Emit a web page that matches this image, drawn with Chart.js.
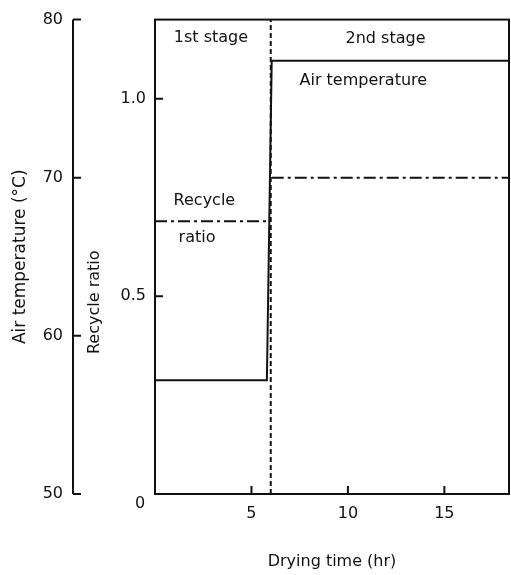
<!DOCTYPE html>
<html>
<head>
<meta charset="utf-8">
<script src="https://cdn.jsdelivr.net/npm/chart.js@4.4.1/dist/chart.umd.min.js"></script>
<style>
  html, body { margin: 0; padding: 0; background: #fff; }
</style>
</head>
<body>
<canvas id="dryingChart" width="511" height="575"></canvas>
<script>
// air temperature (left outer axis, deg C)
const tempHours = [0, 5.8, 6.05, 18.35];
const airTemp = [57.2, 57.2, 77.4, 77.4];

// recycle ratio (dash-dot), gap at the stage change
const recycleHours = [0, 5.95, 6, 6.05, 18.35];
const recycleRatio = [0.69, 0.69, null, 0.8, 0.8];

// stage boundary (dashed)
const stageHours = [6, 6];
const stageRatio = [0, 1.2];

// in-plot labels, anchored in data units (hr, ratio)
const noteText = ['1st stage', '2nd stage', 'Air temperature', 'Recycle', 'ratio'];
const noteHour = [2.9, 11.95, 10.8, 2.56, 2.18];
const noteRatio = [1.155, 1.152, 1.045, 0.742, 0.6475];

const INK = '#111';
const FONT = 'DejaVu Sans';

function toPoints(xs, ys) {
    return xs.map((x, i) => ({ x: x, y: ys[i] }));
}

const frameAndTicks = {
    id: 'frameAndTicks',
    afterDraw(chart) {
        const { ctx, chartArea: a, scales } = chart;
        ctx.save();
        ctx.strokeStyle = INK;
        ctx.lineWidth = 2;
        ctx.strokeRect(a.left, a.top, a.right - a.left, a.bottom - a.top);

        // tick marks point into the plot
        ctx.beginPath();
        scales.x.ticks.forEach(t => {
            if (t.value <= 0) return;
            const px = scales.x.getPixelForValue(t.value);
            ctx.moveTo(px, a.bottom);
            ctx.lineTo(px, a.bottom - 8);
        });
        scales.y.ticks.forEach(t => {
            if (t.value <= 0) return;
            const py = scales.y.getPixelForValue(t.value);
            ctx.moveTo(a.left, py);
            ctx.lineTo(a.left + 8, py);
        });
        const yt = scales.yT;
        ctx.moveTo(yt.right, yt.top);
        ctx.lineTo(yt.right, yt.bottom);
        yt.ticks.forEach(t => {
            const py = yt.getPixelForValue(t.value);
            ctx.moveTo(yt.right, py);
            ctx.lineTo(yt.right + 8, py);
        });
        ctx.stroke();

        ctx.fillStyle = INK;
        ctx.font = '16px "' + FONT + '"';
        ctx.textAlign = 'center';
        ctx.textBaseline = 'middle';
        noteText.forEach((txt, i) => {
            ctx.fillText(txt, scales.x.getPixelForValue(noteHour[i]), scales.y.getPixelForValue(noteRatio[i]));
        });

        // shared origin label
        ctx.fillText('0', a.left - 15, a.bottom + 10);

        // recycle ratio axis title, sits lower than centre
        ctx.translate(scales.y.left + 22, scales.y.getPixelForValue(0.485));
        ctx.rotate(-Math.PI / 2);
        ctx.fillText('Recycle ratio', 0, 0);
        ctx.restore();
    }
};

new Chart(
    document.getElementById('dryingChart'),
    {
        type: 'line',
        data: {
            datasets: [
                {
                    label: 'Air temperature',
                    data: toPoints(tempHours, airTemp),
                    yAxisID: 'yT',
                    borderColor: INK,
                    borderWidth: 2,
                },
                {
                    label: 'Recycle ratio',
                    data: toPoints(recycleHours, recycleRatio),
                    yAxisID: 'y',
                    borderColor: INK,
                    borderWidth: 2,
                    borderDash: [12, 4, 3, 4],
                    spanGaps: false,
                },
                {
                    label: 'Stage change',
                    data: toPoints(stageHours, stageRatio),
                    yAxisID: 'y',
                    borderColor: INK,
                    borderWidth: 2,
                    borderDash: [5, 3],
                }
            ]
        },
        options: {
            responsive: false,
            animation: false,
            layout: { padding: { top: 14, right: 2, left: 0, bottom: 0 } },
            elements: { point: { radius: 0 }, line: { tension: 0, fill: false } },
            plugins: {
                legend: { display: false },
                tooltip: { enabled: false }
            },
            scales: {
                x: {
                    type: 'linear',
                    position: 'bottom',
                    min: 0,
                    max: 18.35,
                    grid: { display: false, drawTicks: false },
                    border: { display: false },
                    ticks: {
                        stepSize: 5,
                        includeBounds: false,
                        maxRotation: 0,
                        padding: 10,
                        color: INK,
                        font: { family: FONT, size: 16 },
                        callback: v => v === 0 ? '' : v
                    },
                    title: {
                        display: true,
                        text: 'Drying time (hr)',
                        color: INK,
                        font: { family: FONT, size: 16 },
                        padding: { top: 0, bottom: 4 }
                    },
                    afterFit: s => { s.height = 81; }
                },
                y: {
                    position: 'left',
                    weight: 0,
                    min: 0,
                    max: 1.2,
                    grid: { display: false, drawTicks: false },
                    border: { display: false },
                    ticks: {
                        stepSize: 0.5,
                        includeBounds: false,
                        padding: 9,
                        color: INK,
                        font: { family: FONT, size: 16 },
                        callback: v => v === 0 ? '' : v.toFixed(1)
                    },
                    afterFit: s => { s.width = 82; }
                },
                yT: {
                    position: 'left',
                    weight: 1,
                    min: 50,
                    max: 80,
                    grid: { display: false, drawTicks: false },
                    border: { display: false },
                    ticks: {
                        stepSize: 10,
                        padding: 10,
                        color: INK,
                        font: { family: FONT, size: 16 }
                    },
                    title: {
                        display: true,
                        text: 'Air temperature (°C)',
                        color: INK,
                        font: { family: FONT, size: 17 },
                        padding: { top: 10, bottom: 0 }
                    },
                    afterFit: s => { s.width = 73; }
                }
            }
        },
        plugins: [frameAndTicks]
    });
</script>
</body>
</html>
